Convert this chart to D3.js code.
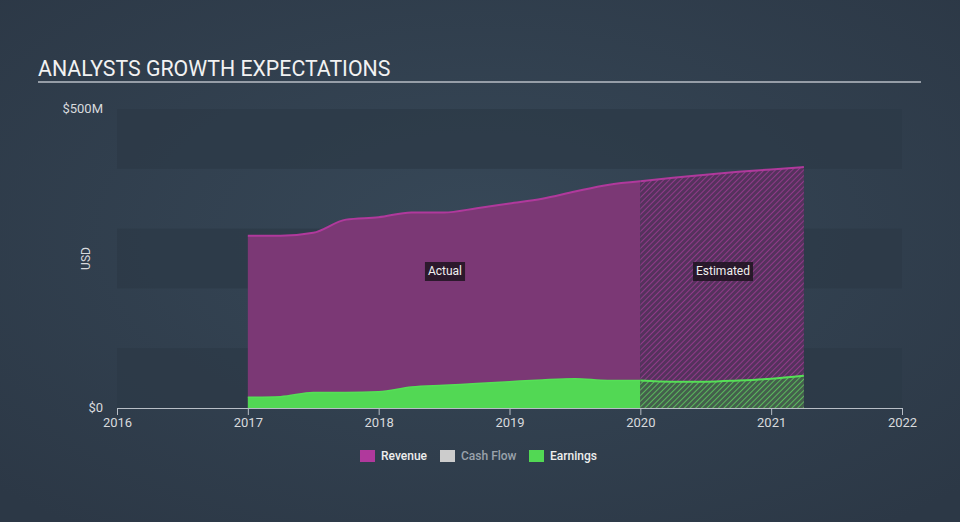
<!DOCTYPE html>
<html><head><meta charset="utf-8">
<script src="https://cdn.jsdelivr.net/npm/d3@7"></script>
<style>
html,body{margin:0;padding:0;background:#33404f;}
svg{display:block;font-family:Roboto,"Open Sans",sans-serif;}
</style></head>
<body><svg id="c" width="960" height="522"></svg>
<script>
// ---- data ----
const revenueActualX = [2017.0,2017.25,2017.5,2017.75,2018.0,2018.25,2018.5,2018.75,2019.0,2019.25,2019.5,2019.75,2020.0];
const revenueActualY = [288,288,293,315,319,327,327,334,342,350,362,373,379];
const revenueEstX = [2020.0,2020.25,2020.5,2020.75,2021.0,2021.25];
const revenueEstY = [379,385,390,395,399,403];
const earningsActualX = [2017.0,2017.25,2017.5,2017.75,2018.0,2018.25,2018.5,2018.75,2019.0,2019.25,2019.5,2019.75,2020.0];
const earningsActualY = [18,19,26,26,27,35,38,41,44,47,49,46,46];
const earningsEstX = [2020.0,2020.25,2020.5,2020.75,2021.0,2021.25];
const earningsEstY = [46,44,44,46,49,54];
const xTicks = [2016,2017,2018,2019,2020,2021,2022];
const yTickLabels = ["$0","$500M"];
const yTickValues = [0,500];
const legendItems = ["Revenue","Cash Flow","Earnings"];
const legendColors = ["#b0399c","#cccccc","#52d854"];

const svg = d3.select("#c");
const W=960,H=522;
const defs = svg.append("defs");
const rg = defs.append("radialGradient").attr("id","bg").attr("cx","50%").attr("cy","45%").attr("r","70%");
rg.append("stop").attr("offset","0%").attr("stop-color","#374858");
rg.append("stop").attr("offset","100%").attr("stop-color","#2c3846");
svg.append("rect").attr("width",W).attr("height",H).attr("fill","url(#bg)");

function hatch(id,bg,line){
  const p=defs.append("pattern").attr("id",id).attr("patternUnits","userSpaceOnUse")
    .attr("width",4).attr("height",4).attr("patternTransform","rotate(45)");
  p.append("rect").attr("width",4).attr("height",4).attr("fill",bg);
  p.append("line").attr("x1",0).attr("y1",0).attr("x2",0).attr("y2",4).attr("stroke",line).attr("stroke-width",1.8);
}
hatch("hRev","#55325d","#973b8e");
hatch("hEarn","#445f4c","#5cc25f");

const x = d3.scaleLinear().domain([2016,2022]).range([117,902]);
const y = d3.scaleLinear().domain([0,500]).range([408,109]);

// bands
const bandG = svg.append("g");
[[500,400],[300,200],[100,0]].forEach(b=>{
  bandG.append("rect").attr("x",x(2016)).attr("width",x(2022)-x(2016))
    .attr("y",y(b[0])).attr("height",y(b[1])-y(b[0])).attr("fill","#2c3947").attr("opacity",0.75);
});

// title
svg.append("text").attr("x",38).attr("y",76).attr("fill","#f2f2f2").attr("font-size",21.3)
  .text("ANALYSTS GROWTH EXPECTATIONS");
svg.append("line").attr("x1",38).attr("x2",921).attr("y1",82).attr("y2",82).attr("stroke","#b8bec6").attr("stroke-width",1.5);

const zip=(a,b)=>a.map((v,i)=>[v,b[i]]);
const area = d3.area().x(d=>x(d[0])).y0(y(0)).y1(d=>y(d[1])).curve(d3.curveMonotoneX);
const line = d3.line().x(d=>x(d[0])).y(d=>y(d[1])).curve(d3.curveMonotoneX);

const rA=zip(revenueActualX,revenueActualY), rE=zip(revenueEstX,revenueEstY);
const eA=zip(earningsActualX,earningsActualY), eE=zip(earningsEstX,earningsEstY);

svg.append("path").attr("d",area(rA)).attr("fill","#7b3875");
svg.append("path").attr("d",area(rE)).attr("fill","url(#hRev)");
svg.append("path").attr("d",line(rA)).attr("fill","none").attr("stroke","#b0399c").attr("stroke-width",2);
svg.append("path").attr("d",line(rE)).attr("fill","none").attr("stroke","#b0399c").attr("stroke-width",2);

svg.append("path").attr("d",area(eA)).attr("fill","#52d854");
svg.append("path").attr("d",area(eE)).attr("fill","url(#hEarn)");
svg.append("path").attr("d",line(eA)).attr("fill","none").attr("stroke","#55e056").attr("stroke-width",1.5);
svg.append("path").attr("d",line(eE)).attr("fill","none").attr("stroke","#55e056").attr("stroke-width",2);

// x axis
const xa = svg.append("g").attr("transform",`translate(0,${y(0)})`)
  .call(d3.axisBottom(x).tickValues(xTicks).tickFormat(d3.format("d")).tickSize(7).tickSizeOuter(0));
xa.select(".domain").attr("stroke","#b8bec6");
xa.selectAll(".tick line").attr("stroke","#b8bec6");
xa.selectAll("text").attr("fill","#d8dadd").attr("font-size",13).attr("font-family","Roboto,sans-serif").attr("dy","0.35em").attr("y",14);

// y labels
yTickValues.forEach((v,i)=>{
  svg.append("text").attr("x",103).attr("y",y(v)+4).attr("text-anchor","end")
    .attr("fill","#d8dadd").attr("font-size",13).text(yTickLabels[i]);
});
svg.append("text").attr("transform",`translate(90,${(y(0)+y(500))/2}) rotate(-90)`)
  .attr("text-anchor","middle").attr("fill","#d8dadd").attr("font-size",12).text("USD");

// Actual / Estimated labels
function tag(cx,txt){
  const g=svg.append("g");
  const t=g.append("text").attr("x",cx).attr("y",275).attr("text-anchor","middle")
    .attr("fill","#f0f0f0").attr("font-size",12).text(txt);
  const bb=t.node().getBBox();
  g.insert("rect","text").attr("x",bb.x-3).attr("y",262).attr("width",bb.width+6).attr("height",19)
    .attr("fill","#1f1420").attr("opacity",0.85);
}
tag(445,"Actual");
tag(723,"Estimated");

// legend
const lx=[360,440,529];
legendItems.forEach((n,i)=>{
  svg.append("rect").attr("x",lx[i]).attr("y",450).attr("width",15).attr("height",12).attr("fill",legendColors[i]);
  svg.append("text").attr("x",lx[i]+21).attr("y",460).attr("fill",i===1?"#9aa2ab":"#eeeeee")
    .attr("font-size",12).attr("font-weight",500).text(n);
});
</script></body></html>
